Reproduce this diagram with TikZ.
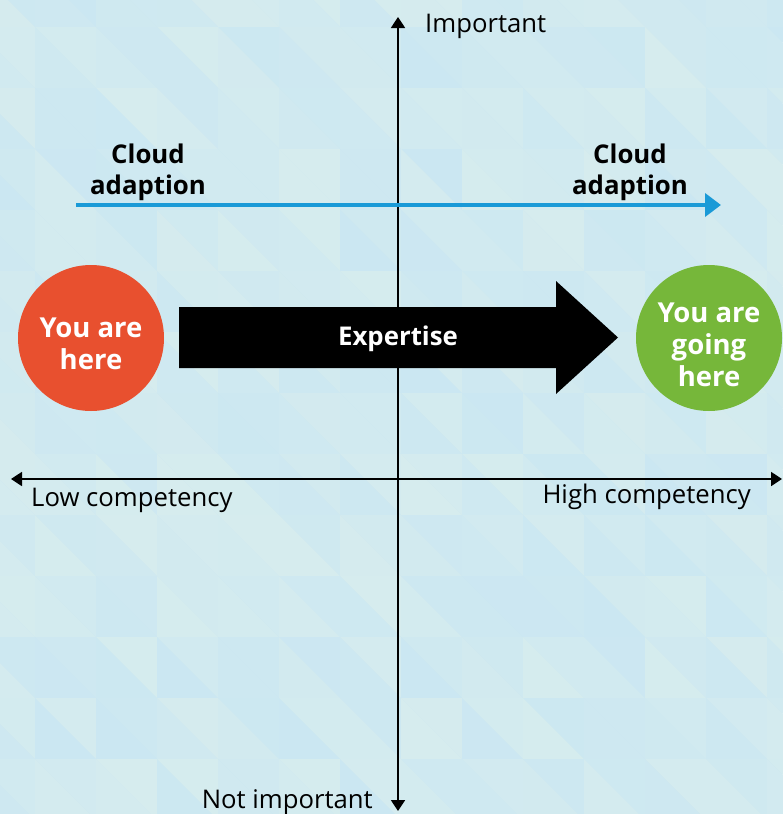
\documentclass[tikz,border=0pt]{standalone}
\usepackage{fontspec}
\setmainfont{Open Sans}
\usetikzlibrary{arrows.meta}

\definecolor{bgA}{HTML}{CBE7F2}
\definecolor{bgB}{HTML}{D6ECEE}
\definecolor{cloudblue}{HTML}{1A9AD7}
\definecolor{hereorange}{HTML}{E8502F}
\definecolor{goinggreen}{HTML}{76B73A}

\begin{document}
\begin{tikzpicture}[x=1pt,y=-1pt,
    axis/.style={line width=1.8pt, {Triangle[width=14pt,length=11pt]}-{Triangle[width=14pt,length=11pt]}},
    axislabel/.style={inner sep=0pt, font=\fontsize{25.7}{30}\selectfont},
    boldlabel/.style={inner sep=0pt, align=center, font=\fontsize{25.8}{31}\selectfont\bfseries},
    spot/.style={circle, minimum size=146pt, inner sep=0pt},
    spottext/.style={inner sep=0pt, align=center, text=white, font=\fontsize{27.5}{32}\selectfont\bfseries}]
    \useasboundingbox (0,0) rectangle (782,814);
    % background
    \fill[bgA] (0,0) rectangle (782,814);
    \pgfmathsetseed{7}
    \foreach \i in {0,...,13} {
        \foreach \j in {0,...,14} {
            \pgfmathsetmacro\xa{-26+61*\i}
            \pgfmathsetmacro\ya{-34+61*\j}
            \pgfmathsetmacro\pa{int(100*rnd)}
            \pgfmathsetmacro\pb{int(100*rnd)}
            \fill[bgA!\pa!bgB] (\xa,\ya) -- (\xa+61,\ya) -- (\xa+61,\ya+61) -- cycle;
            \fill[bgA!\pb!bgB] (\xa,\ya) -- (\xa,\ya+61) -- (\xa+61,\ya+61) -- cycle;
        }
    }
    % axes
    \coordinate (top) at (398,17);
    \coordinate (bottom) at (398,811);
    \coordinate (left) at (11,479);
    \coordinate (right) at (782,479);
    \draw[axis] (bottom) -- (top);
    \draw[axis] (left) -- (right);
    \node[axislabel, anchor=west] (important) at (425,26) {Important};
    \node[axislabel, anchor=east] (notimportant) at (373,802) {Not important};
    \node[axislabel, anchor=west] (low) at (31,500) {Low competency};
    \node[axislabel, anchor=east] (high) at (751,497) {High competency};
    % cloud adaption
    \node[boldlabel] (cloudleft) at (148,172) {Cloud\\adaption};
    \node[boldlabel] (cloudright) at (630,172) {Cloud\\adaption};
    \coordinate (cloudstart) at (76,205);
    \coordinate (cloudend) at (721,205);
    \draw[cloudblue, line width=4.5pt, -{Triangle[width=23pt,length=16pt]}] (cloudstart) -- (cloudend);
    % expertise
    \fill[black] (179,307) -- (556,307) -- (556,281) -- (618,337.5) -- (556,394) -- (556,368) -- (179,368) -- cycle;
    \node[boldlabel, text=white] (expertise) at (398,339) {Expertise};
    % you are here / going here
    \node[spot, fill=hereorange] (here) at (91,338) {};
    \node[spottext] (heretext) at (91,344) {You are\\here};
    \node[spot, fill=goinggreen] (going) at (709,338) {};
    \node[spottext] (goingtext) at (709,345) {You are\\going\\here};
\end{tikzpicture}
\end{document}
